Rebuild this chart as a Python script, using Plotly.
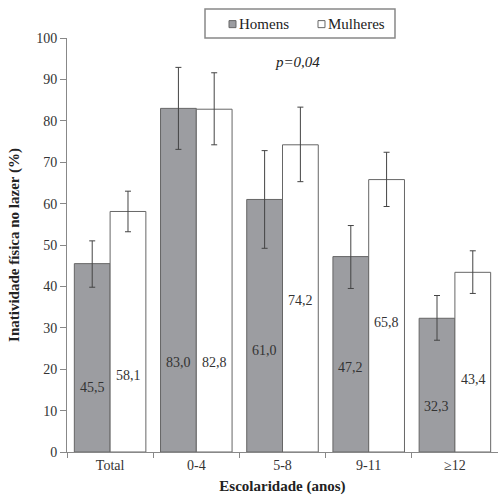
import plotly.graph_objects as go

categories = ["Total", "0-4", "5-8", "9-11", "≥12"]
homens = [45.5, 83.0, 61.0, 47.2, 32.3]
homens_lo = [39.8, 73.1, 49.2, 39.5, 27.0]
homens_hi = [51.0, 92.9, 72.8, 54.7, 37.8]
mulheres = [58.1, 82.8, 74.2, 65.8, 43.4]
mulheres_lo = [53.2, 74.2, 65.3, 59.3, 38.3]
mulheres_hi = [63.0, 91.6, 83.3, 72.4, 48.6]
homens_labels = ["45,5", "83,0", "61,0", "47,2", "32,3"]
mulheres_labels = ["58,1", "82,8", "74,2", "65,8", "43,4"]
# vertical positions of the value labels inside bars (in axis units)
label_y_h = [15.7, 21.7, 24.4, 20.5, 10.9]
label_y_m = [18.4, 21.7, 36.7, 31.4, 17.6]

FONT = "Liberation Serif, serif"
GRAY = "#9c9da1"
EDGE = "#666666"

fig = go.Figure()
fig.add_trace(go.Bar(
    name="Homens", x=categories, y=homens, showlegend=False,
    marker=dict(color=GRAY, line=dict(color=EDGE, width=1)),
    error_y=dict(type="data", symmetric=False,
                 array=[h - v for h, v in zip(homens_hi, homens)],
                 arrayminus=[v - l for l, v in zip(homens_lo, homens)],
                 color="#444444", thickness=1, width=3),
))
fig.add_trace(go.Bar(
    name="Mulheres", x=categories, y=mulheres, showlegend=False,
    marker=dict(color="#ffffff", line=dict(color=EDGE, width=1)),
    error_y=dict(type="data", symmetric=False,
                 array=[h - v for h, v in zip(mulheres_hi, mulheres)],
                 arrayminus=[v - l for l, v in zip(mulheres_lo, mulheres)],
                 color="#444444", thickness=1, width=3),
))

anns = []
for i, c in enumerate(categories):
    anns.append(dict(x=i - 0.21, y=label_y_h[i], xref="x", yref="y", text=homens_labels[i],
                     showarrow=False, font=dict(family=FONT, size=14, color="#333333")))
    anns.append(dict(x=i + 0.21, y=label_y_m[i], xref="x", yref="y", text=mulheres_labels[i],
                     showarrow=False, font=dict(family=FONT, size=14, color="#333333")))
anns.append(dict(x=0.534, y=0.966, xref="paper", yref="paper", text="<i>p=0,04</i>",
                 showarrow=False, font=dict(family=FONT, size=15, color="#222222")))

# custom legend (box, swatches, labels) in paper coordinates
anns.append(dict(x=0.3945, y=1.0338, xref="paper", yref="paper", text="Homens",
                 xanchor="left", yanchor="middle", showarrow=False,
                 font=dict(family=FONT, size=15, color="#222222")))
anns.append(dict(x=0.601, y=1.0338, xref="paper", yref="paper", text="Mulheres",
                 xanchor="left", yanchor="middle", showarrow=False,
                 font=dict(family=FONT, size=15, color="#222222")))
shapes = [
    dict(type="rect", xref="paper", yref="paper", x0=0.3202, x1=0.761, y0=1.0, y1=1.070,
         line=dict(color="#888888", width=1.5), fillcolor="white", layer="above"),
    dict(type="rect", xref="paper", yref="paper", x0=0.3759, x1=0.3921, y0=1.0250, y1=1.0420,
         line=dict(color=EDGE, width=1), fillcolor=GRAY, layer="above"),
    dict(type="rect", xref="paper", yref="paper", x0=0.5824, x1=0.5986, y0=1.0250, y1=1.0420,
         line=dict(color=EDGE, width=1), fillcolor="white", layer="above"),
]

fig.update_layout(
    width=498, height=500,
    margin=dict(l=67, r=0, t=38, b=48, autoexpand=False),
    paper_bgcolor="white", plot_bgcolor="white",
    barmode="group", bargap=0.17, bargroupgap=0,
    font=dict(family=FONT, size=14, color="#333333"),
    showlegend=False,
    annotations=anns,
    shapes=shapes,
    xaxis=dict(range=[-0.5, 4.5], showline=True, linecolor="#888888", linewidth=1,
               ticks="outside", tickson="boundaries", ticklen=5, tickcolor="#888888",
               automargin=False,
               tickfont=dict(family=FONT, size=14, color="#333333"),
               title=dict(text="<b>Escolaridade (anos)</b>", standoff=8,
                          font=dict(family=FONT, size=15, color="#222222"))),
    yaxis=dict(range=[0, 100], dtick=10, showline=True, linecolor="#888888", linewidth=1,
               ticks="outside", ticklen=6, tickcolor="#888888", showgrid=False, zeroline=False,
               automargin=False,
               tickfont=dict(family=FONT, size=14, color="#333333"),
               title=dict(text="<b>Inatividade física no lazer (%)</b>", standoff=12,
                          font=dict(family=FONT, size=15, color="#222222"))),
)
fig.write_html("out.html", config={"displayModeBar": False},
               post_script="document.body.style.margin='0';document.body.style.overflow='hidden';")
